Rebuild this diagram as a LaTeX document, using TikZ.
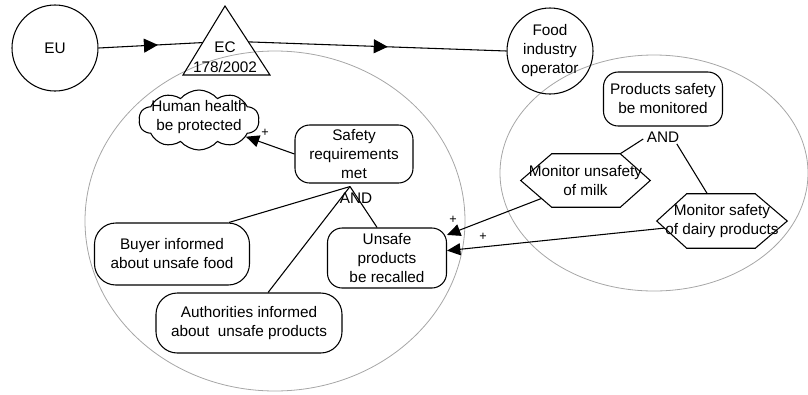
\documentclass[tikz,border=0pt]{standalone}
\usepackage{fontspec}
\setmainfont{Liberation Sans}
\usetikzlibrary{shapes.symbols,shapes.geometric,arrows.meta,decorations.markings,calc}

\begin{document}
\begin{tikzpicture}[x=0.75pt,y=-0.75pt,
  txt/.style={font=\fontsize{11.5}{14.25}\selectfont, align=center},
  actor/.style={circle, draw, line width=0.8pt, minimum size=64.5pt, inner sep=0pt, txt},
  goal/.style={draw, line width=0.8pt, inner sep=0pt, txt},
  taskbox/.style={rectangle, inner sep=0pt, txt},
  boundary/.style={draw=gray!70, line width=0.6pt},
  link/.style={line width=0.8pt},
  contrib/.style={link, -{Triangle[length=10pt,width=9pt]}},
  flow/.style={link, postaction={decorate}, decoration={markings, mark=at position #1 with {\arrow{Triangle[length=10.5pt,width=10.5pt]}}}},
  lbl/.style={font=\fontsize{9.5}{10}\selectfont, inner sep=0pt},
  andlbl/.style={font=\fontsize{11.5}{12}\selectfont, inner sep=1pt},
]
\useasboundingbox (0,0) rectangle (808,394);

% actor boundaries
\draw[boundary] (275,221) ellipse [x radius=190, y radius=170];
\draw[boundary] (654,173) ellipse [x radius=154, y radius=118];

% actors
\node[actor] (eu) at (55,48) {EU};
\node[actor] (food) at (550,51) {Food\\industry\\operator};

% regulation (triangle)
\draw[link] (225,6) coordinate (ectop) -- (270,75) coordinate (ecbr) -- (183,75) coordinate (ecbl) -- cycle;
\node[font=\fontsize{11.5}{14.6}\selectfont, align=center, inner sep=0pt] (ec) at (225,57) {EC\\178/2002};
\coordinate (ecin) at ($(ectop)!0.53!(ecbl)$);
\coordinate (ecout) at ($(ectop)!0.52!(ecbr)$);

% dependency links through the regulation
\draw[flow=0.57] (eu.east) -- (ecin);
\draw[flow=0.54] (ecout) -- (food.west);

% softgoal
\node[cloud, draw, line width=0.8pt, cloud puffs=10, cloud puff arc=100, cloud ignores aspect,
      minimum width=90pt, minimum height=45pt, inner sep=0pt] (health) at (199,120) {};
\node[txt, inner sep=0pt] (healthtxt) at (199,117) {Human health\\be protected};

% goals
\node[goal, rounded corners=11pt, minimum width=88.5pt, minimum height=43.5pt] (safety) at (354,154) {Safety\\requirements\\met};
\node[goal, rounded corners=16pt, minimum width=116.25pt, minimum height=46.5pt] (buyer) at (172,254) {Buyer informed\\about unsafe food};
\node[goal, rounded corners=16pt, minimum width=139.5pt, minimum height=45pt] (auth) at (249,323) {Authorities informed\\about\ \ unsafe products};
\node[goal, rounded corners=11pt, minimum width=89.25pt, minimum height=45pt] (unsafe) at (387,258) {Unsafe\\products\\be recalled};
\node[goal, rounded corners=11pt, minimum width=89.25pt, minimum height=40.5pt] (monitored) at (663,99) {Products safety\\be monitored};

% tasks (hexagons)
\node[taskbox, minimum width=96.75pt, minimum height=39.75pt] (milk) at (585.5,180.5) {Monitor unsafety\\of milk};
\coordinate (milktl) at ($(milk.north west)+(31,0)$);
\coordinate (milktr) at ($(milk.north east)+(-30,0)$);
\coordinate (milkbr) at ($(milk.south east)+(-30,0)$);
\coordinate (milkbl) at ($(milk.south west)+(31,0)$);
\draw[link] (milk.west) -- (milktl) -- (milktr) -- (milk.east) -- (milkbr) -- (milkbl) -- cycle;

\node[taskbox, minimum width=97.5pt, minimum height=40.5pt] (dairy) at (722,221) {Monitor safety\\of dairy products};
\coordinate (dairytl) at ($(dairy.north west)+(30,0)$);
\coordinate (dairytr) at ($(dairy.north east)+(-32,0)$);
\coordinate (dairybr) at ($(dairy.south east)+(-32,0)$);
\coordinate (dairybl) at ($(dairy.south west)+(30,0)$);
\draw[link] (dairy.west) -- (dairytl) -- (dairytr) -- (dairy.east) -- (dairybr) -- (dairybl) -- cycle;

% AND decompositions
\coordinate (andleft) at ($(safety.south)+(-4,3)$);
\draw[link] (andleft) -- (buyer.29);
\draw[link] (andleft) -- (auth.58);
\draw[link] (andleft) -- (unsafe.108);
\node[andlbl] (and1) at (356,198) {AND};

\node[andlbl] (and2) at (663,137) {AND};
\draw[link] (milktr) -- ($(and2.west)+(-2,2)$);
\draw[link] ($(dairytl)!0.3!(dairytr)$) -- ($(and2.south east)+(-4,0)$);

% contributions
\draw[contrib] (safety.west) -- (health);
\node[lbl] at (265,133) {+};
\draw[contrib] ($(milk.west)!0.67!(milkbl)$) -- (unsafe.21);
\node[lbl] at (453,220) {+};
\draw[contrib] ($(dairy.west)!0.26!(dairybl)$) -- (unsafe.7);
\node[lbl] at (483,237) {+};
\end{tikzpicture}
\end{document}
